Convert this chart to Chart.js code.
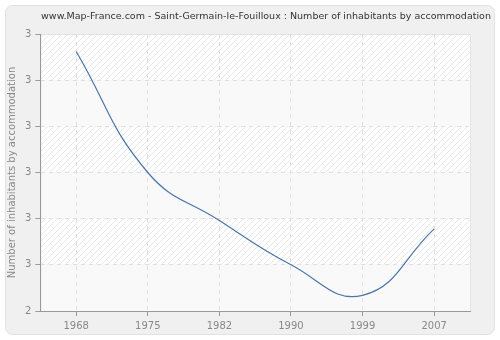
<!DOCTYPE html>
<html lang="en">
<head>
<meta charset="UTF-8">
<title>Number of inhabitants by accommodation</title>
<script src="https://cdn.jsdelivr.net/npm/chart.js"></script>
<style>
  html, body { margin: 0; padding: 0; background: #ffffff; }
  #wrap { width: 500px; height: 340px; position: relative; }
</style>
</head>
<body>
<div id="wrap"><canvas id="chart" width="500" height="340"></canvas></div>
<script>
// data
const years = ['1968', '1975', '1982', '1990', '1999', '2007'];
const inhabitantsPerHome = [2.962, 2.70, 2.596, 2.50, 2.434, 2.578];
const yMin = 2.4, yMax = 3.0, yStep = 0.1;
const chartTitle = 'www.Map-France.com - Saint-Germain-le-Fouilloux : Number of inhabitants by accommodation';

const font = "'DejaVu Sans', Verdana, sans-serif";

// frame + striped plot background, title on top
const backdrop = {
    id: 'backdrop',
    beforeDraw(chart) {
        const ctx = chart.ctx;
        const area = chart.chartArea;
        ctx.save();
        ctx.fillStyle = '#ffffff';
        ctx.fillRect(0, 0, chart.width, chart.height);
        ctx.beginPath();
        ctx.roundRect(5.5, 5.5, 489, 329, 7);
        ctx.fillStyle = '#f0f0f0';
        ctx.fill();
        ctx.strokeStyle = '#e2e2e2';
        ctx.lineWidth = 1;
        ctx.stroke();

        // hatch pattern
        const p = document.createElement('canvas');
        p.width = 6; p.height = 6;
        const pc = p.getContext('2d');
        pc.fillStyle = '#ffffff';
        pc.fillRect(0, 0, 6, 6);
        pc.strokeStyle = '#e8e8e8';
        pc.lineWidth = 1;
        pc.beginPath();
        pc.moveTo(0, 6); pc.lineTo(6, 0);
        pc.moveTo(-1, 1); pc.lineTo(1, -1);
        pc.moveTo(5, 7); pc.lineTo(7, 5);
        pc.stroke();
        const hatch = ctx.createPattern(p, 'repeat');

        const ys = chart.scales.y;
        const ticks = ys.ticks.map(t => ys.getPixelForValue(t.value)).sort((a, b) => a - b);
        for (let i = 0; i < ticks.length - 1; i++) {
            ctx.fillStyle = (i % 2 === 0) ? hatch : '#f9f9f9';
            ctx.fillRect(area.left, ticks[i], area.right - area.left, ticks[i + 1] - ticks[i]);
        }
        ctx.strokeStyle = '#e4e4e4';
        ctx.strokeRect(area.left + 0.5, area.top + 0.5, area.right - area.left, area.bottom - area.top);

        ctx.fillStyle = '#333333';
        ctx.font = '9.5px ' + font;
        ctx.textAlign = 'center';
        ctx.textBaseline = 'middle';
        ctx.fillText(chartTitle, 266, 17);
        ctx.restore();
    }
};

new Chart(document.getElementById('chart'), {
    type: 'line',
    data: {
        labels: years,
        datasets: [{
            data: inhabitantsPerHome,
            borderColor: '#4a76a8',
            borderWidth: 1.2,
            pointRadius: 0,
            tension: 0.45,
            fill: false
        }]
    },
    options: {
        responsive: false,
        animation: false,
        layout: { padding: { left: 6, right: 30, top: 34, bottom: 4 } },
        plugins: {
            legend: { display: false },
            tooltip: { enabled: false },
            title: { display: false }
        },
        scales: {
            x: {
                offset: true,
                grid: {
                    color: '#e0e0e0',
                    tickColor: '#999999',
                    tickLength: 5,
                    offset: false
                },
                border: { display: true, color: '#999999', dash: [4, 4] },
                ticks: { color: '#888888', font: { family: font, size: 10 }, padding: 4, maxRotation: 0 }
            },
            y: {
                min: yMin,
                max: yMax,
                grid: {
                    color: '#e0e0e0',
                    tickColor: '#999999',
                    tickLength: 5
                },
                border: { display: true, color: '#999999', dash: [4, 4] },
                ticks: {
                    stepSize: yStep,
                    color: '#888888',
                    font: { family: font, size: 10 },
                    padding: 4,
                    callback: v => Math.round(v)
                },
                title: {
                    display: true,
                    text: 'Number of inhabitants by accommodation',
                    color: '#888888',
                    font: { family: font, size: 10 },
                    padding: { top: 0, bottom: 3 }
                }
            }
        }
    },
    plugins: [backdrop]
});
</script>
</body>
</html>
